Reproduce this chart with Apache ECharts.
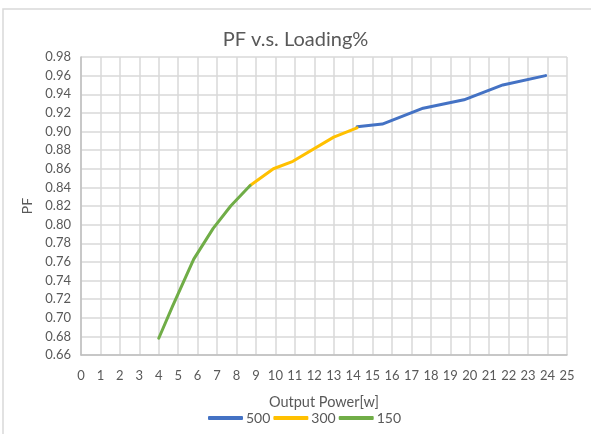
<!DOCTYPE html>
<html>
<head>
<meta charset="utf-8">
<script src="https://cdn.jsdelivr.net/npm/echarts@6/dist/echarts.min.js"></script>
<style>
html,body{margin:0;padding:0;background:#fff;}
#c{width:591px;height:434px;}
</style>
</head>
<body>
<div id="c"></div>
<script>
var seriesNames = ['500', '300', '150'];
var data500 = [[14.2,0.905],[15.5,0.908],[17.6,0.925],[19.7,0.934],[21.7,0.950],[23.9,0.960]];
var data300 = [[8.7,0.842],[9.9,0.860],[10.9,0.868],[13.0,0.894],[14.2,0.904]];
var data150 = [[4.0,0.678],[4.7,0.712],[5.8,0.763],[6.8,0.796],[7.7,0.820],[8.7,0.842]];
var colors = ['#4472C4', '#FFC000', '#70AD47'];
var FONT = 'Lato';
var TXT = '#595959';

var chart = echarts.init(document.getElementById('c'), null, {renderer:'canvas'});
function mk(name, data, color){
  return {name:name, type:'line', data:data, showSymbol:false, symbol:'none',
    lineStyle:{color:color, width:3, cap:'round', join:'round'}, itemStyle:{color:color},
    animation:false, z:3};
}
chart.setOption({
  animation:false,
  textStyle:{fontFamily:FONT},
  title:{text:'PF v.s. Loading%', left:'center', top:25,
    textStyle:{fontFamily:FONT, fontSize:20, fontWeight:'normal', color:TXT}},
  graphic:[{type:'rect', shape:{x:3, y:9, width:700, height:500},
    style:{fill:'none', stroke:'#d9d9d9', lineWidth:1.5}, silent:true}],
  legend:{data:seriesNames, bottom:4, left:203, icon:'roundRect', itemWidth:35, itemHeight:4, itemGap:3,
    textStyle:{fontFamily:FONT, fontSize:14, color:TXT, padding:[0,0,0,-2]}},
  grid:{left:81, top:57, right:24, bottom:79, containLabel:false},
  xAxis:{type:'value', min:0, max:25, interval:1,
    name:'Output Power[w]', nameLocation:'middle', nameGap:40,
    nameTextStyle:{fontFamily:FONT, fontSize:14.5, color:TXT},
    axisLine:{show:true, lineStyle:{color:'#bfbfbf', width:1.5}},
    axisTick:{show:false},
    axisLabel:{fontFamily:FONT, fontSize:13, color:TXT, margin:14},
    splitLine:{show:true, lineStyle:{color:'#d9d9d9', width:1.5}}},
  yAxis:{type:'value', min:0.66, max:0.98, interval:0.02,
    name:'PF', nameLocation:'middle', nameGap:45,
    nameTextStyle:{fontFamily:FONT, fontSize:14, color:TXT},
    axisLine:{show:true, lineStyle:{color:'#bfbfbf', width:1.5}},
    axisTick:{show:false},
    axisLabel:{fontFamily:FONT, fontSize:13, color:TXT, margin:10, formatter:function(v){return v.toFixed(2);}},
    splitLine:{show:true, lineStyle:{color:'#d9d9d9', width:1.5}}},
  series:[mk('500', data500, colors[0]), mk('300', data300, colors[1]), mk('150', data150, colors[2])]
});
</script>
</body>
</html>
